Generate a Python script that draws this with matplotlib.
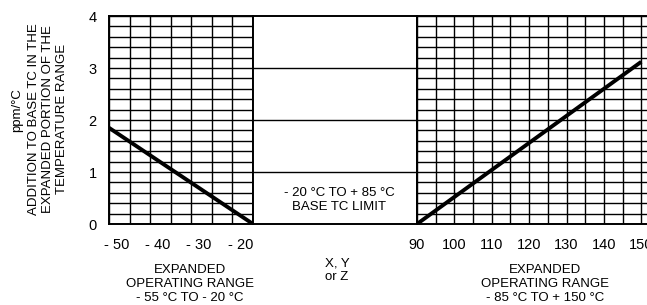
import numpy as np
import matplotlib
matplotlib.use("Agg")
import matplotlib.pyplot as plt
from matplotlib.ticker import MultipleLocator, FixedLocator

plt.rcParams['font.family'] = ['Liberation Sans', 'DejaVu Sans']

# data
left_temp = [-55, -20]
left_ppm = [1.85, 0.0]
right_temp = [90, 150]
right_ppm = [0.0, 3.12]

left_ticks = [-50, -40, -30, -20]
left_ticklabels = ['- 50', '- 40', '- 30', '- 20']
right_ticks = [90, 100, 110, 120, 130, 140, 150]
right_ticklabels = ['90', '100', '110', '120', '130', '140', '150']
y_ticks = [0, 1, 2, 3, 4]
mid_levels = [1, 2, 3]

W, H = 647, 305
fig = plt.figure(figsize=(W / 100, H / 100), dpi=100)

def box(x0, x1, top=16, bot=224):
    return [x0 / W, (H - bot) / H, (x1 - x0) / W, (bot - top) / H]

ax_l = fig.add_axes(box(109, 253))
ax_m = fig.add_axes(box(253, 417))
ax_r = fig.add_axes(box(417, 660))

for ax in (ax_l, ax_m, ax_r):
    ax.set_ylim(0, 4)
    for s in ax.spines.values():
        s.set_linewidth(1.4)
        s.set_color('black')
    ax.tick_params(which='both', length=0, labelsize=10.5, pad=10)

# left panel
ax_l.set_xlim(-55, -20)
ax_l.xaxis.set_major_locator(FixedLocator(left_ticks))
ax_l.set_xticklabels(left_ticklabels, ha='right')
ax_l.xaxis.set_minor_locator(MultipleLocator(5))
ax_l.yaxis.set_major_locator(FixedLocator(y_ticks))
ax_l.yaxis.set_minor_locator(MultipleLocator(0.2))
ax_l.tick_params(axis='y', pad=9)
ax_l.grid(which='both', color='black', linewidth=1.0)
ax_l.plot(left_temp, left_ppm, color='black', linewidth=2.8, solid_capstyle='butt')

# middle panel
ax_m.set_xlim(0, 1)
ax_m.set_xticks([])
ax_m.yaxis.set_major_locator(FixedLocator(mid_levels))
ax_m.set_yticklabels([])
ax_m.grid(axis='y', color='black', linewidth=1.0)

# right panel
ax_r.set_xlim(90, 155)
ax_r.xaxis.set_major_locator(FixedLocator(right_ticks))
ax_r.set_xticklabels(right_ticklabels)
ax_r.xaxis.set_minor_locator(MultipleLocator(5))
ax_r.yaxis.set_major_locator(FixedLocator(y_ticks))
ax_r.yaxis.set_minor_locator(MultipleLocator(0.2))
ax_r.set_yticklabels([])
ax_r.grid(which='both', color='black', linewidth=1.0)
ax_r.plot(right_temp, right_ppm, color='black', linewidth=2.8, solid_capstyle='butt')

def ftext(x, y, s, **kw):
    fig.text(x / W, 1 - y / H, s, ha='center', va='center', fontsize=9.5,
             linespacing=1.2, **kw)

ftext(17, 110, 'ppm/°C', rotation=90)
ftext(48, 119, 'ADDITION TO BASE TC IN THE\nEXPANDED PORTION OF THE\nTEMPERATURE RANGE',
      rotation=90)
ftext(339, 200, '- 20 °C TO + 85 °C\nBASE TC LIMIT')
ftext(337, 270, 'X, Y\nor Z')
ftext(190, 284, 'EXPANDED\nOPERATING RANGE\n- 55 °C TO - 20 °C')
ftext(545, 284, 'EXPANDED\nOPERATING RANGE\n- 85 °C TO + 150 °C')

fig.savefig('out.png', dpi=100)
